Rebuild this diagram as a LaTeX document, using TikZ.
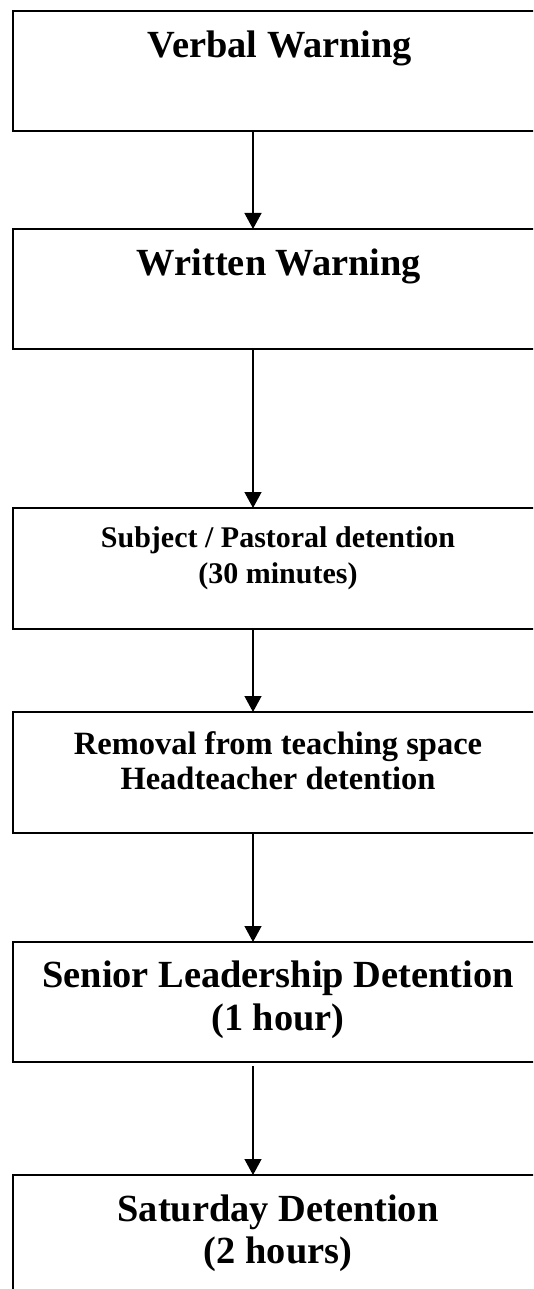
\documentclass[tikz,border=0pt]{standalone}
\usepackage{fontspec}
\setmainfont{Liberation Serif}
\usetikzlibrary{arrows.meta}
\tikzset{
  stagebox/.style={draw=black, line width=1.8pt, rectangle, anchor=north west,
    minimum width=536pt, minimum height=#1, inner sep=0pt, outer sep=0pt},
  big/.style={anchor=base, inner sep=0pt, font=\bfseries\fontsize{38.4}{46}\selectfont},
  mid/.style={anchor=base, inner sep=0pt, font=\bfseries\fontsize{32.5}{40}\selectfont},
  small/.style={anchor=base, inner sep=0pt, font=\bfseries\fontsize{30}{36}\selectfont},
  arr/.style={line width=1.3pt, -{Triangle[width=17pt,length=16pt]}}
}
\begin{document}
\begin{tikzpicture}[x=1pt,y=-1pt]
\useasboundingbox (0,0) rectangle (533,1289);
\fill[white] (0,0) rectangle (533,1289);
\clip (0,0) rectangle (533,1289);
\coordinate (ax) at (253,0);
% boxes
\node[stagebox=120pt] (b1) at (13,11) {};
\node[stagebox=120pt] (b2) at (13,229) {};
\node[stagebox=121pt] (b3) at (13,508) {};
\node[stagebox=121pt] (b4) at (13,712) {};
\node[stagebox=120pt] (b5) at (13,942) {};
\node[stagebox=130pt] (b6) at (13,1175) {};
% texts
\node[big] (t1) at (280,57.7) {Verbal Warning};
\node[big] (t2) at (279,275) {Written Warning};
\node[small] (t3a) at (278,547) {Subject / Pastoral detention};
\node[small] (t3b) at (278,583) {(30 minutes)};
\node[mid] (t4a) at (278,754) {Removal from teaching space};
\node[mid] (t4b) at (278,789) {Headteacher detention};
\node[big] (t5a) at (278,987) {Senior Leadership Detention};
\node[big] (t5b) at (278,1030) {(1 hour)};
\node[big] (t6a) at (278,1221) {Saturday Detention};
\node[big] (t6b) at (278,1263) {(2 hours)};
% arrows
\draw[arr] (b1.south -| ax) -- (b2.north -| ax);
\draw[arr] (b2.south -| ax) -- (b3.north -| ax);
\draw[arr] (b3.south -| ax) -- (b4.north -| ax);
\draw[arr] (b4.south -| ax) -- (b5.north -| ax);
\draw[arr] ([yshift=-4pt]b5.south -| ax) -- (b6.north -| ax);
\end{tikzpicture}
\end{document}
